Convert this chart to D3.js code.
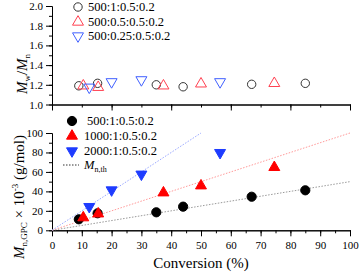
<!DOCTYPE html>
<html>
<head>
<meta charset="utf-8">
<script src="https://cdn.jsdelivr.net/npm/d3@7"></script>
<style>
  body { margin: 0; background: #fff; }
</style>
</head>
<body>
<div id="chart"></div>
<script>
// series: [M]:[CTA]:[I]:[cat] ratios
const seriesNames = ["500:1:0.5:0.2", "1000:1:0.5:0.2", "2000:1:0.5:0.2"];
const pdiNames = ["500:1:0.5:0.2", "500:0.5:0.5:0.2", "500:0.25:0.5:0.2"];

const conv500 = [9, 15.3, 35, 44, 67, 85];
const mn500 = [11.3, 17.5, 18.5, 24.3, 34.5, 41.1];
const conv1000 = [10.5, 15.5, 37.4, 50, 74.6];
const mn1000 = [13, 17, 38.6, 45.8, 64.7];
const conv2000 = [12.5, 20, 30, 56.4];
const mn2000 = [24.3, 41.4, 57.6, 79.8];

const pdiConvA = [9, 15.3, 35, 44, 67, 85];
const pdiA = [1.19, 1.215, 1.2, 1.18, 1.205, 1.215];
const pdiConvB = [10.5, 15.5, 37.4, 50, 74.6];
const pdiB = [1.19, 1.175, 1.19, 1.21, 1.215];
const pdiConvC = [12.5, 20, 30, 56.4];
const pdiC = [1.175, 1.23, 1.25, 1.23];

// theoretical Mn (kg/mol) per 100 % conversion
const thSlopes = [0.5, 1, 2];

const topYTicks = [1.0, 1.2, 1.4, 1.6, 1.8, 2.0];
const botYTicks = [0, 20, 40, 60, 80, 100];
const botXTicks = [0, 10, 20, 30, 40, 50, 60, 70, 80, 90, 100];

const serif = "'Liberation Serif', serif";

const svg = d3.select("#chart").append("svg")
    .attr("width", 360)
    .attr("height", 274);

const x = d3.scaleLinear().domain([0, 100]).range([52, 350]);
const yTop = d3.scaleLinear().domain([1, 2]).range([104.5, 6]);
const yBot = d3.scaleLinear().domain([0, 100]).range([230.3, 133]);

function styleAxis(g) {
    g.attr("font-size", 11);
    g.selectAll("path.domain").attr("stroke", "#000").attr("stroke-width", 1);
    g.selectAll("line").attr("stroke", "#000").attr("stroke-width", 1);
    g.selectAll("text").attr("fill", "#000");
}

// top panel axes
svg.append("g").attr("transform", `translate(0,${yTop(1)})`)
    .call(d3.axisBottom(x).tickValues(d3.range(0, 101, 10)).tickSize(3).tickFormat("").tickSizeOuter(0))
    .call(styleAxis);
svg.append("g").attr("transform", `translate(0,${yTop(1)})`)
    .call(d3.axisBottom(x).tickValues(d3.range(0, 101, 20)).tickSize(6).tickFormat("").tickSizeOuter(0))
    .call(styleAxis);
svg.append("g").attr("transform", `translate(${x(0)},0)`)
    .call(d3.axisLeft(yTop).tickValues(d3.range(1, 2.01, 0.1)).tickSize(3).tickFormat("").tickSizeOuter(0))
    .call(styleAxis);
svg.append("g").attr("transform", `translate(${x(0)},0)`)
    .call(d3.axisLeft(yTop).tickValues(topYTicks).tickSize(6).tickPadding(3).tickFormat(d3.format(".1f")).tickSizeOuter(0))
    .call(styleAxis);

// bottom panel axes
svg.append("g").attr("transform", `translate(0,${yBot(0)})`)
    .call(d3.axisBottom(x).tickValues(d3.range(0, 101, 5)).tickSize(3).tickFormat("").tickSizeOuter(0))
    .call(styleAxis);
svg.append("g").attr("transform", `translate(0,${yBot(0)})`)
    .call(d3.axisBottom(x).tickValues(botXTicks).tickSize(6).tickPadding(5).tickSizeOuter(0))
    .call(styleAxis);
svg.append("g").attr("transform", `translate(${x(0)},0)`)
    .call(d3.axisLeft(yBot).tickValues(d3.range(0, 101, 10)).tickSize(3).tickFormat("").tickSizeOuter(0))
    .call(styleAxis);
svg.append("g").attr("transform", `translate(${x(0)},0)`)
    .call(d3.axisLeft(yBot).tickValues(botYTicks).tickSize(6).tickPadding(3).tickSizeOuter(0))
    .call(styleAxis);

// theoretical lines
const thColors = ["#9a9a9a", "#ff9a9a", "#9aa8ff"];
thSlopes.forEach((s, i) => {
    const xEnd = Math.min(100, 100 / s);
    svg.append("line")
        .attr("x1", x(0)).attr("y1", yBot(0))
        .attr("x2", x(xEnd)).attr("y2", yBot(s * xEnd))
        .attr("stroke", thColors[i])
        .attr("stroke-width", 1)
        .attr("stroke-dasharray", "1.5,1.5");
});

const tri = d3.symbol().type(d3.symbolTriangle);

function marker(g, kind, cx, cy, fill, stroke, size) {
    if (kind === "circle") {
        g.append("circle").attr("cx", cx).attr("cy", cy).attr("r", size)
            .attr("fill", fill).attr("stroke", stroke).attr("stroke-width", 1);
    } else {
        const rot = kind === "down" ? 180 : 0;
        g.append("path").attr("d", tri.size(size)())
            .attr("transform", `translate(${cx},${cy}) rotate(${rot})`)
            .attr("fill", fill).attr("stroke", stroke).attr("stroke-width", 1);
    }
}

// bottom points
const botSets = [
    { c: conv500, v: mn500, kind: "circle", fill: "#000", stroke: "#000", size: 4.6 },
    { c: conv1000, v: mn1000, kind: "up", fill: "#ff0000", stroke: "#ff0000", size: 52 },
    { c: conv2000, v: mn2000, kind: "down", fill: "#1e3cff", stroke: "#1e3cff", size: 52 }
];
botSets.forEach(s => {
    s.c.forEach((cv, i) => marker(svg, s.kind, x(cv), yBot(s.v[i]), s.fill, s.stroke, s.size));
});

// top points
const topSets = [
    { c: pdiConvA, v: pdiA, kind: "circle", fill: "none", stroke: "#333", size: 4.2 },
    { c: pdiConvB, v: pdiB, kind: "up", fill: "none", stroke: "#ff4050", size: 52 },
    { c: pdiConvC, v: pdiC, kind: "down", fill: "none", stroke: "#4060ff", size: 52 }
];
topSets.forEach(s => {
    s.c.forEach((cv, i) => marker(svg, s.kind, x(cv), yTop(s.v[i]), s.fill, s.stroke, s.size));
});

// top legend
const topLegY = [7, 22, 36];
topSets.forEach((s, i) => {
    marker(svg, s.kind, 78, topLegY[i], s.fill, s.stroke, s.size);
    svg.append("text").attr("x", 88).attr("y", topLegY[i] + 4)
        .attr("font-size", 12.5).text(pdiNames[i]);
});

// bottom legend
const botLegY = [121, 136, 151];
botSets.forEach((s, i) => {
    marker(svg, s.kind, 72, botLegY[i], s.fill, s.stroke, s.size);
    svg.append("text").attr("x", i === 0 ? 87 : 84).attr("y", botLegY[i] + 4)
        .attr("font-size", 12.5).text(seriesNames[i]);
});
svg.append("line").attr("x1", 63).attr("x2", 79).attr("y1", 165).attr("y2", 165)
    .attr("stroke", "#333").attr("stroke-width", 1).attr("stroke-dasharray", "1.5,1.5");
const thLab = svg.append("text").attr("x", 84).attr("y", 169).attr("font-size", 12.5);
thLab.append("tspan").attr("font-style", "italic").text("M");
thLab.append("tspan").attr("font-size", 8).attr("dy", 3).text("n,th");

// axis titles
svg.append("text").attr("x", 201).attr("y", 268).attr("text-anchor", "middle")
    .attr("font-size", 15).text("Conversion (%)");

const t1 = svg.append("text").attr("transform", "translate(27,74) rotate(-90)")
    .attr("text-anchor", "middle").attr("font-size", 15);
t1.append("tspan").attr("font-style", "italic").text("M");
t1.append("tspan").attr("font-size", 9).attr("dy", 3).text("w");
t1.append("tspan").attr("dy", -3).text("/");
t1.append("tspan").attr("font-style", "italic").text("M");
t1.append("tspan").attr("font-size", 9).attr("dy", 3).text("n");

const t2 = svg.append("text").attr("transform", "translate(24,197) rotate(-90)")
    .attr("text-anchor", "middle").attr("font-size", 15);
t2.append("tspan").attr("font-style", "italic").text("M");
t2.append("tspan").attr("font-size", 9).attr("dy", 3).text("n,GPC");
t2.append("tspan").attr("dy", -3).text(" × 10");
t2.append("tspan").attr("font-size", 9).attr("dy", -6).text("-3");
t2.append("tspan").attr("dy", 6).text(" (g/mol)");

// every label in Times-like serif
svg.selectAll("text").style("font-family", serif);
</script>
</body>
</html>
